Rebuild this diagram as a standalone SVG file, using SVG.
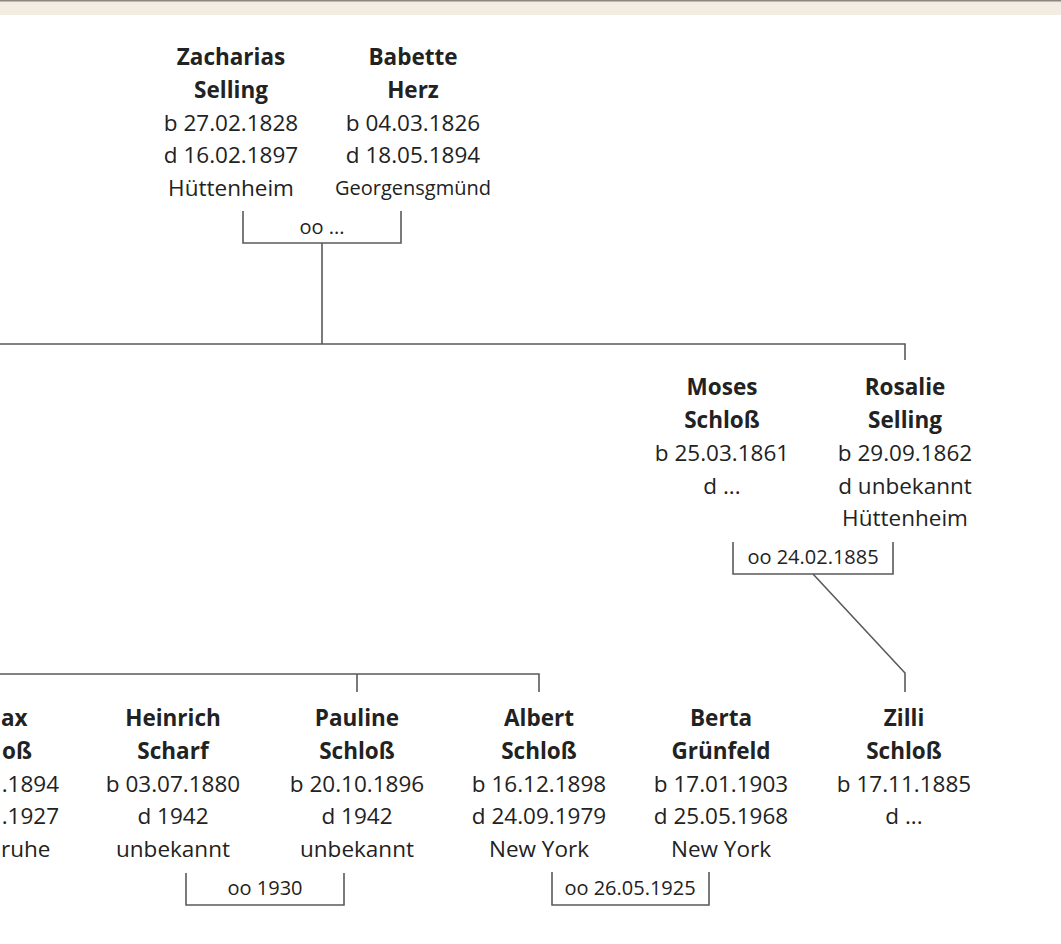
<svg xmlns="http://www.w3.org/2000/svg" width="1061" height="944" viewBox="0 0 1061 944">
<style>
.t{font-family:"Open Sans","Noto Sans","Liberation Sans",sans-serif;font-size:22.5px;fill:#222;text-anchor:middle}
.b{font-weight:bold}
.s{font-size:20px}
.e{text-anchor:end}
.st{text-anchor:start}
.ln{fill:none;stroke:#5a5a5a;stroke-width:1.6}
</style>
<rect x="0" y="0" width="1061" height="944" fill="#ffffff"/>
<rect x="0" y="1" width="1061" height="14" fill="#f3ece2"/>
<rect x="0" y="0" width="1061" height="1.5" fill="#8a8580"/>
<g id="connectors" class="ln">
<path d="M243,211 V243 H401 V211"/>
<path d="M322,243 V344"/>
<path d="M0,344 H905 V360"/>
<path d="M733,542 V574 H893 V542"/>
<path d="M813,574 L905,673 V692"/>
<path d="M0,674 H539 V692"/>
<path d="M357,674 V692"/>
<path d="M186,873 V905 H344 V873"/>
<path d="M552,872 V905 H709 V872"/>
</g>
<g id="marriage-labels">
<text class="t s" x="322" y="234">oo ...</text>
<text class="t s" x="813" y="564">oo 24.02.1885</text>
<text class="t s" x="265" y="895">oo 1930</text>
<text class="t s" x="630" y="895">oo 26.05.1925</text>
</g>
<g id="zacharias">
<text class="t b" x="231" y="65">Zacharias</text>
<text class="t b" x="231" y="98">Selling</text>
<text class="t" x="231" y="131">b 27.02.1828</text>
<text class="t" x="231" y="163">d 16.02.1897</text>
<text class="t" x="231" y="196">Hüttenheim</text>
</g>
<g id="babette">
<text class="t b" x="413" y="65">Babette</text>
<text class="t b" x="413" y="98">Herz</text>
<text class="t" x="413" y="131">b 04.03.1826</text>
<text class="t" x="413" y="163">d 18.05.1894</text>
<text class="t s" x="413" y="195">Georgensgmünd</text>
</g>
<g id="moses">
<text class="t b" x="722" y="395">Moses</text>
<text class="t b" x="722" y="428">Schloß</text>
<text class="t" x="722" y="461">b 25.03.1861</text>
<text class="t" x="722" y="494">d ...</text>
</g>
<g id="rosalie">
<text class="t b" x="905" y="395">Rosalie</text>
<text class="t b" x="905" y="428">Selling</text>
<text class="t" x="905" y="461">b 29.09.1862</text>
<text class="t" x="905" y="494">d unbekannt</text>
<text class="t" x="905" y="526">Hüttenheim</text>
</g>
<g id="max">
<text class="t b st" x="1" y="726">ax</text>
<text class="t b st" x="2" y="759">oß</text>
<text class="t e" x="59" y="792">.1894</text>
<text class="t e" x="59" y="824">.1927</text>
<text class="t st" x="1" y="857">ruhe</text>
</g>
<g id="heinrich">
<text class="t b" x="173" y="726">Heinrich</text>
<text class="t b" x="173" y="759">Scharf</text>
<text class="t" x="173" y="792">b 03.07.1880</text>
<text class="t" x="173" y="824">d 1942</text>
<text class="t" x="173" y="857">unbekannt</text>
</g>
<g id="pauline">
<text class="t b" x="357" y="726">Pauline</text>
<text class="t b" x="357" y="759">Schloß</text>
<text class="t" x="357" y="792">b 20.10.1896</text>
<text class="t" x="357" y="824">d 1942</text>
<text class="t" x="357" y="857">unbekannt</text>
</g>
<g id="albert">
<text class="t b" x="539" y="726">Albert</text>
<text class="t b" x="539" y="759">Schloß</text>
<text class="t" x="539" y="792">b 16.12.1898</text>
<text class="t" x="539" y="824">d 24.09.1979</text>
<text class="t" x="539" y="857">New York</text>
</g>
<g id="berta">
<text class="t b" x="721" y="726">Berta</text>
<text class="t b" x="721" y="759">Grünfeld</text>
<text class="t" x="721" y="792">b 17.01.1903</text>
<text class="t" x="721" y="824">d 25.05.1968</text>
<text class="t" x="721" y="857">New York</text>
</g>
<g id="zilli">
<text class="t b" x="904" y="726">Zilli</text>
<text class="t b" x="904" y="759">Schloß</text>
<text class="t" x="904" y="792">b 17.11.1885</text>
<text class="t" x="904" y="824">d ...</text>
</g>
</svg>
